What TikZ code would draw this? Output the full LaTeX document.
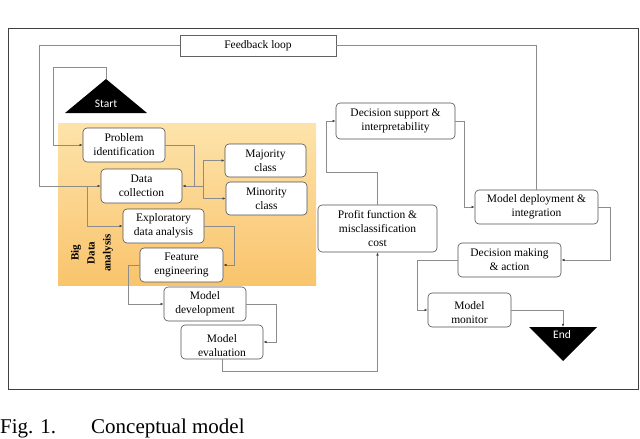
\documentclass[tikz,border=0pt]{standalone}
\usepackage{fontspec}
\setmainfont{Liberation Serif}
\newfontfamily\calib{Carlito}
\newfontfamily\timesf{Liberation Serif}
\usetikzlibrary{arrows.meta,calc}
\definecolor{conncol}{HTML}{8C8C8C}
\definecolor{boxcol}{HTML}{505050}
\definecolor{orangetop}{HTML}{FDE3AB}
\definecolor{orangebot}{HTML}{F9C46C}
\definecolor{framecol}{HTML}{404040}
\begin{document}
\begin{tikzpicture}[x=1pt,y=-1pt,
  box/.style={draw=boxcol, line width=0.6pt, rounded corners=4pt, fill=white, align=center, inner sep=0pt, font=\timesf\fontsize{11.5}{14}\selectfont},
  boxtxt/.style={align=center, inner sep=0pt, font=\timesf\fontsize{11.5}{14}\selectfont},
  conn/.style={draw=conncol, line width=0.6pt},
  arr/.style={conn, -{Latex[length=3.2pt,width=2.6pt,color=black!75]}},
  tritxt/.style={font=\calib\fontsize{11.5}{12}\selectfont, text=white, inner sep=0pt},
  captxt/.style={anchor=base west, inner sep=0pt, font=\timesf\fontsize{21}{24}\selectfont}
]
\useasboundingbox (0,0) rectangle (640,439);
\fill[white] (0,0) rectangle (640,439);

% frame
\draw[framecol, line width=1pt] (8,28) rectangle (638,389);

% big data region
\fill[top color=orangetop, bottom color=orangebot] (58,123) rectangle (316,285);
\node[rotate=90, align=center, inner sep=0pt, font=\timesf\bfseries\fontsize{11}{16}\selectfont] (bigdata) at (92,253) {Big\\Data\\analysis};

% start / end
\fill[black] (65,113) -- (106,79) -- (147,113) -- cycle;
\coordinate (stapex) at (106,79);
\node[tritxt] (start) at (106,104) {Start};
\fill[black] (529,327) -- (597,327) -- (563,361) -- cycle;
\coordinate (endtop) at (563,327);
\node[tritxt] (end) at (562,335) {End};

% feedback box
\node[draw=conncol!70!black, line width=0.6pt, minimum width=156pt, minimum height=21pt, inner sep=0pt, font=\timesf\fontsize{11.5}{14}\selectfont] (feedback) at (258,45.5) {Feedback loop};

% boxes
\node[box, minimum width=82pt, minimum height=34pt] (probid) at (124,145) {Problem\\identification};
\node[box, minimum width=81pt, minimum height=34pt] (datacol) at (141.5,186) {Data\\collection};
\node[box, minimum width=81pt, minimum height=33pt] (major) at (265.5,160.5) {Majority\\class};
\node[box, minimum width=81pt, minimum height=33pt] (minor) at (266.5,198.5) {Minority\\class};
\node[box, minimum width=81pt, minimum height=34pt] (explor) at (163.5,226) {Exploratory\\data analysis};
\node[box, minimum width=83pt, minimum height=34pt] (feature) at (181.5,265) {Feature\\engineering};
\node[box, minimum width=82pt, minimum height=34pt] (modeldev) at (205,304) {Model\\development};
\node[box, minimum width=82pt, minimum height=34pt] (modeleval) at (222,342) {};
\begin{scope}
\clip (182,326) rectangle (262,355);
\node[boxtxt, anchor=base] (modelevaltxt) at (222,356) {Model\\evaluation};
\end{scope}
\node[box, minimum width=119pt, minimum height=47pt] (profit) at (377.5,228.5) {Profit function \&\\misclassification\\cost};
\node[box, minimum width=119pt, minimum height=36pt] (decsup) at (395.5,121) {Decision support \&\\interpretability};
\node[box, minimum width=123pt, minimum height=34pt] (deploy) at (536.5,207) {Model deployment \&\\integration};
\node[box, minimum width=103pt, minimum height=34pt] (decmak) at (509.5,260) {Decision making\\\& action};
\node[box, minimum width=83pt, minimum height=34pt] (monitor) at (469.5,310) {};
\begin{scope}
\clip (429,294) rectangle (510,322.5);
\node[boxtxt, anchor=base] (monitortxt) at (469.5,323.5) {Model\\monitor};
\end{scope}

% junction coordinates
\coordinate (split) at (203,186);
\coordinate (fbjoin) at (87,186);

% connectors
\draw[arr] (stapex) -- (106,67) -- (53,67) -- (53,145) -- (probid.west);
\draw[conn] (probid.east) -- (194,145) -- (194,186);
\draw[arr] (split) -- (datacol.east);
\draw[arr] (split) |- (major.west);
\draw[arr] (split) |- (minor.west);
\draw[conn] (deploy.north) |- (feedback.east);
\draw[arr] (feedback.west) -- (39,45.5) -- (39,186) -- (datacol.west);
\draw[arr] (fbjoin) |- (explor.west);
\draw[arr] (explor.east) -- (234,226) |- (feature.east);
\draw[arr] (feature.west) -- (128,265) |- (modeldev.west);
\draw[arr] (modeldev.east) -- (276,304) |- (modeleval.east);
\draw[arr] (modeleval.south) -- (222,371) -| (profit.south);
\draw[arr] (profit.north) |- (326,172) |- (decsup.west);
\draw[arr] (decsup.east) -- (464,121) |- (deploy.west);
\draw[arr] (deploy.east) -- (610,207) |- (decmak.east);
\draw[arr] (decmak.west) -- (417,260) |- (monitor.west);
\draw[arr] (monitor.east) -| (endtop);

% caption
\node[captxt] (figlbl) at (0,433) {Fig. 1.};
\node[captxt] (figcap) at (91,433) {Conceptual model};
\end{tikzpicture}
\end{document}
